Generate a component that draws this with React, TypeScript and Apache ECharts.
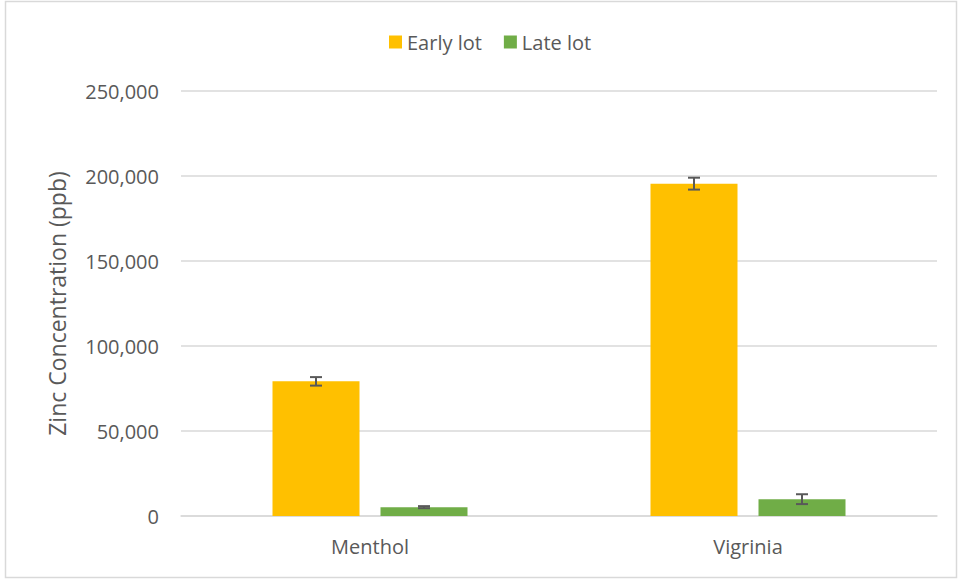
import React, { useEffect, useRef } from "react";
import * as echarts from "echarts";

const categories = ["Menthol", "Vigrinia"];
const seriesNames = ["Early lot", "Late lot"];
const earlyValues = [79200, 195500];
const lateValues = [5200, 9900];
const earlyErrors = [2500, 3500];
const lateErrors = [600, 2900];
const yTicks = [0, 50000, 100000, 150000, 200000, 250000];

const BAR_WIDTH = 87;
const BAR_GAP_PX = 21;

export default function App() {
  const ref = useRef<HTMLDivElement>(null);
  useEffect(() => {
    if (!ref.current) return;
    const chart = echarts.init(ref.current, null, { renderer: "svg" });
    const font = "'Open Sans', 'Noto Sans', sans-serif";
    const errData: any[] = [];
    categories.forEach((_, i) => {
      errData.push([i, earlyValues[i], earlyErrors[i], 0]);
      errData.push([i, lateValues[i], lateErrors[i], 1]);
    });
    const offset = (BAR_WIDTH + BAR_GAP_PX) / 2;
    chart.setOption({
      animation: false,
      textStyle: { fontFamily: font },
      graphic: [
        {
          type: "rect",
          shape: { x: 5.5, y: 1.5, width: 951, height: 576 },
          style: { fill: "none", stroke: "#d9d9d9", lineWidth: 1.5 },
          silent: true,
        },
      ],
      legend: {
        data: seriesNames,
        top: 27,
        left: 384,
        itemWidth: 13,
        itemHeight: 13,
        itemGap: 22,
        icon: "rect",
        textStyle: { color: "#595959", fontSize: 20, fontFamily: font },
      },
      grid: { left: 181, right: 24, top: 91, bottom: 65, containLabel: false },
      xAxis: {
        type: "category",
        data: categories,
        axisLine: { lineStyle: { color: "#d9d9d9", width: 1.5 } },
        axisTick: { show: false },
        axisLabel: { color: "#595959", fontSize: 20, margin: 20, fontFamily: font },
      },
      yAxis: {
        type: "value",
        min: yTicks[0],
        max: yTicks[yTicks.length - 1],
        interval: 50000,
        name: "Zinc Concentration (ppb)",
        nameLocation: "middle",
        nameGap: 113,
        nameTextStyle: { color: "#595959", fontSize: 23, fontFamily: font },
        axisLine: { show: false },
        axisTick: { show: false },
        splitLine: { lineStyle: { color: "#d9d9d9", width: 1.5 } },
        axisLabel: {
          color: "#595959",
          fontSize: 20,
          margin: 22,
          fontFamily: font,
          formatter: (v: number) => v.toLocaleString("en-US"),
        },
      },
      series: [
        {
          name: seriesNames[0],
          type: "bar",
          data: earlyValues,
          barWidth: BAR_WIDTH,
          barGap: (BAR_GAP_PX / BAR_WIDTH) * 100 + "%",
          itemStyle: { color: "#ffc000" },
        },
        {
          name: seriesNames[1],
          type: "bar",
          data: lateValues,
          barWidth: BAR_WIDTH,
          itemStyle: { color: "#70ad47" },
        },
        {
          type: "custom",
          data: errData,
          z: 10,
          silent: true,
          renderItem: (params: any, api: any) => {
            const cat = api.value(0);
            const val = api.value(1);
            const err = api.value(2);
            const s = api.value(3);
            const dx = s === 0 ? -offset : offset;
            const hi = api.coord([cat, val + err]);
            const lo = api.coord([cat, val - err]);
            const x = hi[0] + dx;
            const cap = 6;
            const style = { stroke: "#595959", lineWidth: 2 };
            return {
              type: "group",
              children: [
                { type: "line", shape: { x1: x, y1: hi[1], x2: x, y2: lo[1] }, style },
                { type: "line", shape: { x1: x - cap, y1: hi[1], x2: x + cap, y2: hi[1] }, style },
                { type: "line", shape: { x1: x - cap, y1: lo[1], x2: x + cap, y2: lo[1] }, style },
              ],
            };
          },
        },
      ],
    });
    return () => chart.dispose();
  }, []);
  return (
    <div
      ref={ref}
      style={{ position: "fixed", left: 0, top: 0, width: 961, height: 581, background: "#fff" }}
    />
  );
}
